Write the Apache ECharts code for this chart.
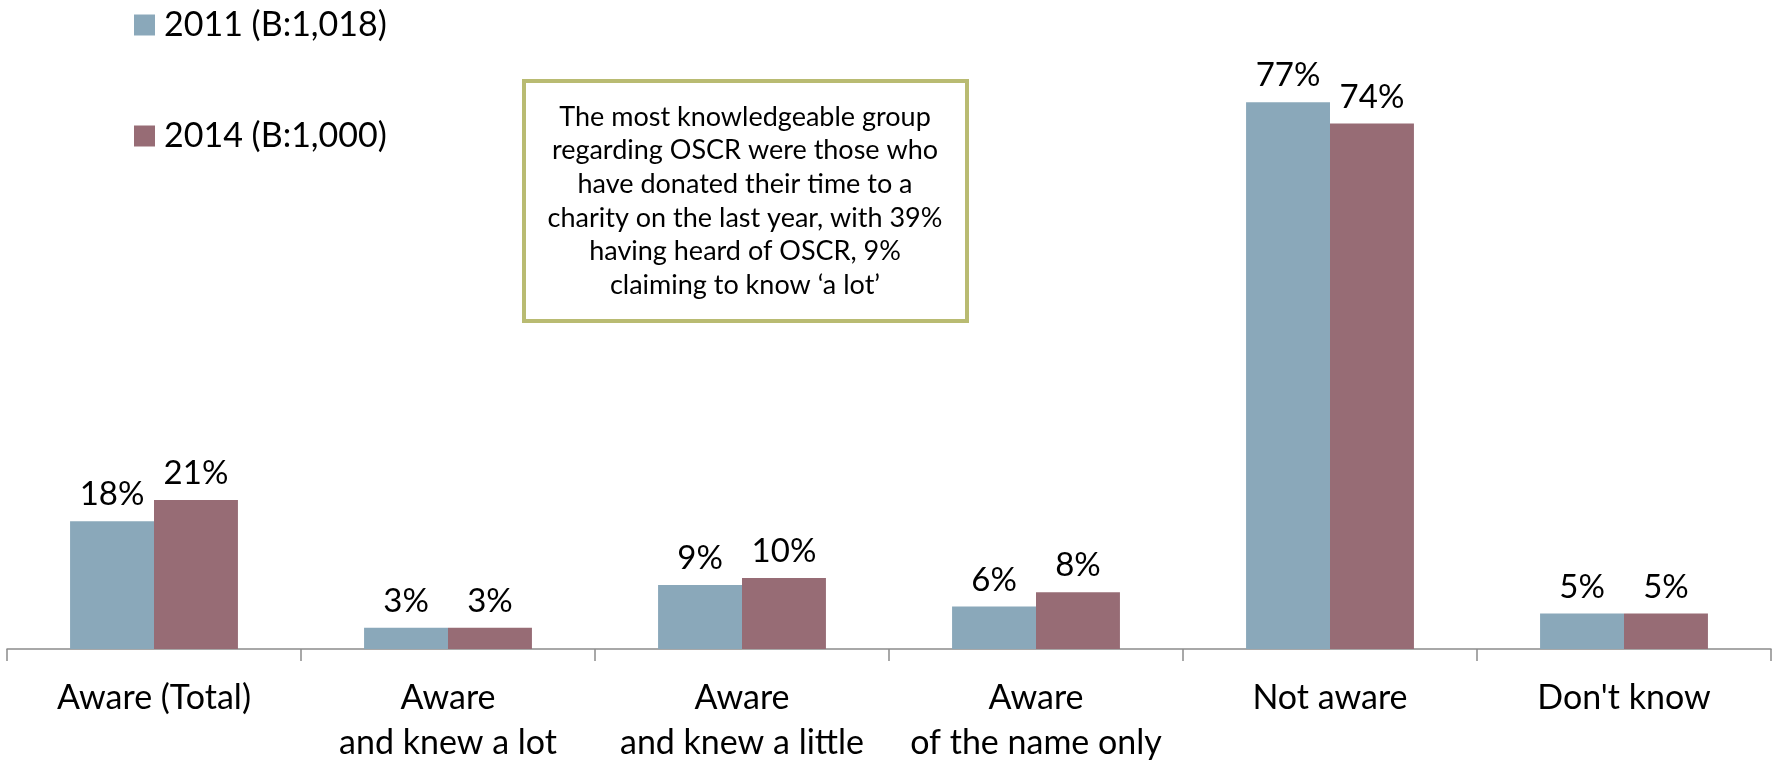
<!DOCTYPE html>
<html>
<head>
<meta charset="utf-8">
<script src="https://cdn.jsdelivr.net/npm/echarts@6/dist/echarts.min.js"></script>
<style>
    html, body { margin: 0; padding: 0; background: #fff; }
    #chart01 { width: 1777px; height: 761px; }
</style>
</head>
<body>
<div id="chart01"></div>
<script>
// 数据
var categories = ['Aware (Total)', 'Aware\nand knew a lot', 'Aware\nand knew a little', 'Aware\nof the name only', 'Not aware', "Don't know"];
var seriesNames = ['2011 (B:1,018)', '2014 (B:1,000)'];
var values2011 = [18, 3, 9, 6, 77, 5];
var values2014 = [21, 3, 10, 8, 74, 5];
var noteLines = [
    'The most knowledgeable group',
    'regarding OSCR were those who',
    'have donated their time to a',
    'charity on the last year, with 39%',
    'having heard of OSCR, 9%',
    'claiming to know \u2018a lot\u2019'
];

var FONT = 'Lato, "Open Sans", sans-serif';

var chart01 = echarts.init(document.getElementById('chart01'));
var chart01_option = {
    animation: false,
    textStyle: {
        fontFamily: FONT
    },
    color: ['#8aa8ba', '#976c75'],
    legend: {
        orient: 'vertical',
        left: 134,
        top: 6,
        padding: 0,
        itemGap: 73,
        itemWidth: 21,
        itemHeight: 21,
        icon: 'rect',
        data: seriesNames,
        textStyle: {
            fontSize: 34,
            lineHeight: 38,
            color: '#000',
            padding: [0, 0, 0, 4]
        }
    },
    grid: {
        left: 7,
        right: 6,
        top: 10,
        bottom: 112,
        containLabel: false,
        outerBoundsMode: 'none'
    },
    xAxis: {
        type: 'category',
        data: categories,
        axisLine: {
            lineStyle: {color: '#8c8c8c', width: 1.5}
        },
        axisTick: {
            show: true,
            length: 12,
            lineStyle: {color: '#8c8c8c', width: 1.5}
        },
        axisLabel: {
            interval: 0,
            margin: 27,
            fontSize: 34,
            lineHeight: 45,
            color: '#000'
        }
    },
    yAxis: {
        type: 'value',
        min: 0,
        max: 90,
        show: false,
        splitLine: {show: false}
    },
    series: [
        {
            name: seriesNames[0],
            type: 'bar',
            data: values2011,
            barGap: '0%',
            barCategoryGap: '42.9%',
            label: {
                show: true,
                position: 'top',
                distance: 10,
                formatter: '{c}%',
                fontSize: 33,
                color: '#000'
            }
        },
        {
            name: seriesNames[1],
            type: 'bar',
            data: values2014,
            barGap: '0%',
            barCategoryGap: '42.9%',
            label: {
                show: true,
                position: 'top',
                distance: 10,
                formatter: '{c}%',
                fontSize: 33,
                color: '#000'
            }
        }
    ],
    graphic: [
        {
            type: 'rect',
            shape: {x: 524, y: 81, width: 443, height: 240},
            style: {fill: '#fff', stroke: '#b9bb72', lineWidth: 4},
            z: 10
        },
        {
            type: 'text',
            x: 745,
            y: 201,
            z: 11,
            style: {
                text: noteLines.join('\n'),
                align: 'center',
                verticalAlign: 'middle',
                fontSize: 27,
                lineHeight: 33.6,
                fontFamily: FONT,
                fill: '#000'
            }
        }
    ]
};
chart01.setOption(chart01_option);
</script>
</body>
</html>
